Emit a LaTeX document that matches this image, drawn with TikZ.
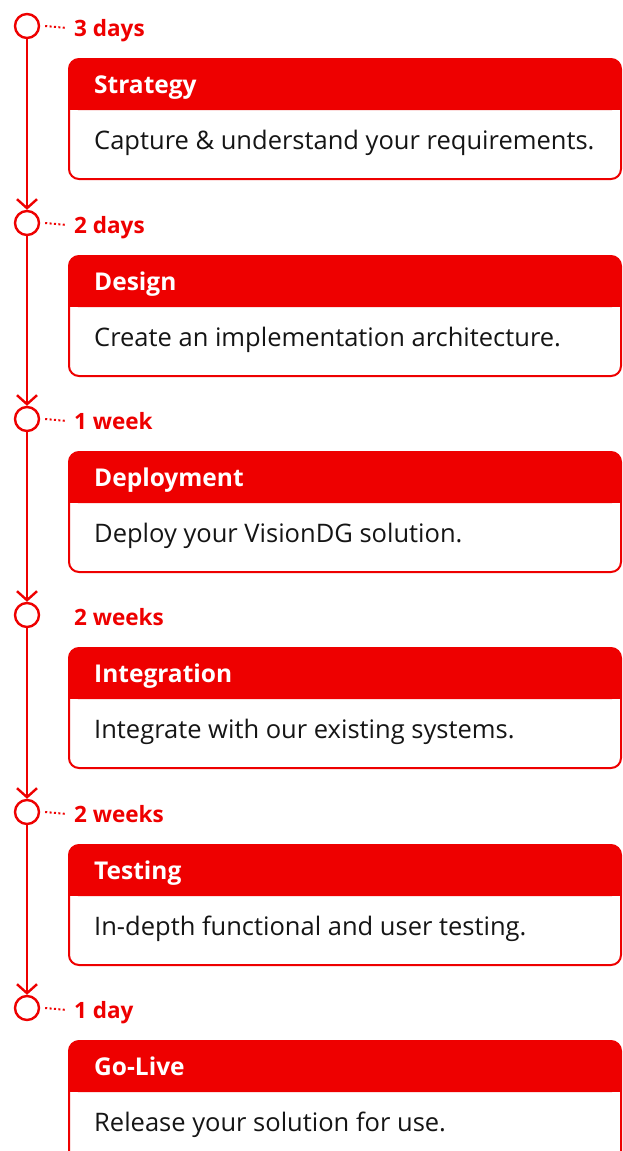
\documentclass[tikz,border=0pt]{standalone}
\usepackage{fontspec}
\setmainfont{Open Sans}
\usetikzlibrary{arrows.meta}
\definecolor{rhred}{HTML}{EE0000}
\definecolor{ink}{HTML}{151515}
\begin{document}
\begin{tikzpicture}[x=1pt,y=-1pt,
  dot/.style={circle,draw=rhred,line width=2.4pt,minimum size=24pt,inner sep=0pt},
  lbl/.style={anchor=base west,text=rhred,font=\fontsize{22.5}{26}\selectfont\bfseries,inner sep=0pt},
  card/.style={anchor=north west,draw=rhred,fill=white,line width=2pt,rounded corners=10pt,minimum width=552pt,minimum height=120pt,inner sep=0pt},
  head/.style={anchor=base west,text=white,font=\fontsize{24.5}{28}\selectfont\bfseries,inner sep=0pt},
  body/.style={anchor=base west,text=ink,font=\fontsize{25.5}{29}\selectfont,inner sep=0pt},
  flow/.style={draw=rhred,line width=2.4pt,-{Straight Barb[length=9pt,width=20pt]}},
  dots/.style={draw=rhred,line width=2pt,dash pattern=on 2pt off 2.4pt}]
\useasboundingbox (0,0) rectangle (622,1151);
\foreach \i/\c/\l/\h/\b/\d in {
  1/26/3 days/Strategy/Capture \& understand your requirements./1,
  2/223/2 days/Design/Create an implementation architecture./1,
  3/419/1 week/Deployment/Deploy your VisionDG solution./1,
  4/615/2 weeks/Integration/Integrate with our existing systems./0,
  5/812/2 weeks/Testing/In-depth functional and user testing./1,
  6/1008/1 day/Go-Live/Release your solution for use./1}{
  \node[dot] (m\i) at (27,\c) {};
  \node[lbl] (l\i) at (74,\c+10) {\l};
  \ifnum\d=1
    \draw[dots] ([xshift=5pt]m\i.east) -- ([xshift=-7pt,yshift=8pt]l\i.base west);
  \fi
  \node[card] (b\i) at (68,\c+32) {};
  \fill[rhred,rounded corners=9pt] ([xshift=1pt,yshift=-1pt]b\i.north west) rectangle ([xshift=-1pt,yshift=-52pt]b\i.north east);
  \fill[rhred] ([xshift=1pt,yshift=-30pt]b\i.north west) rectangle ([xshift=-1pt,yshift=-52pt]b\i.north east);
  \node[head] (h\i) at (94,\c+67) {\h};
  \node[body] (d\i) at (94,\c+123) {\b};
}
\foreach \i/\j in {1/2,2/3,3/4,4/5,5/6}
  \draw[flow] (m\i.south) -- (m\j.north);
\end{tikzpicture}
\end{document}
